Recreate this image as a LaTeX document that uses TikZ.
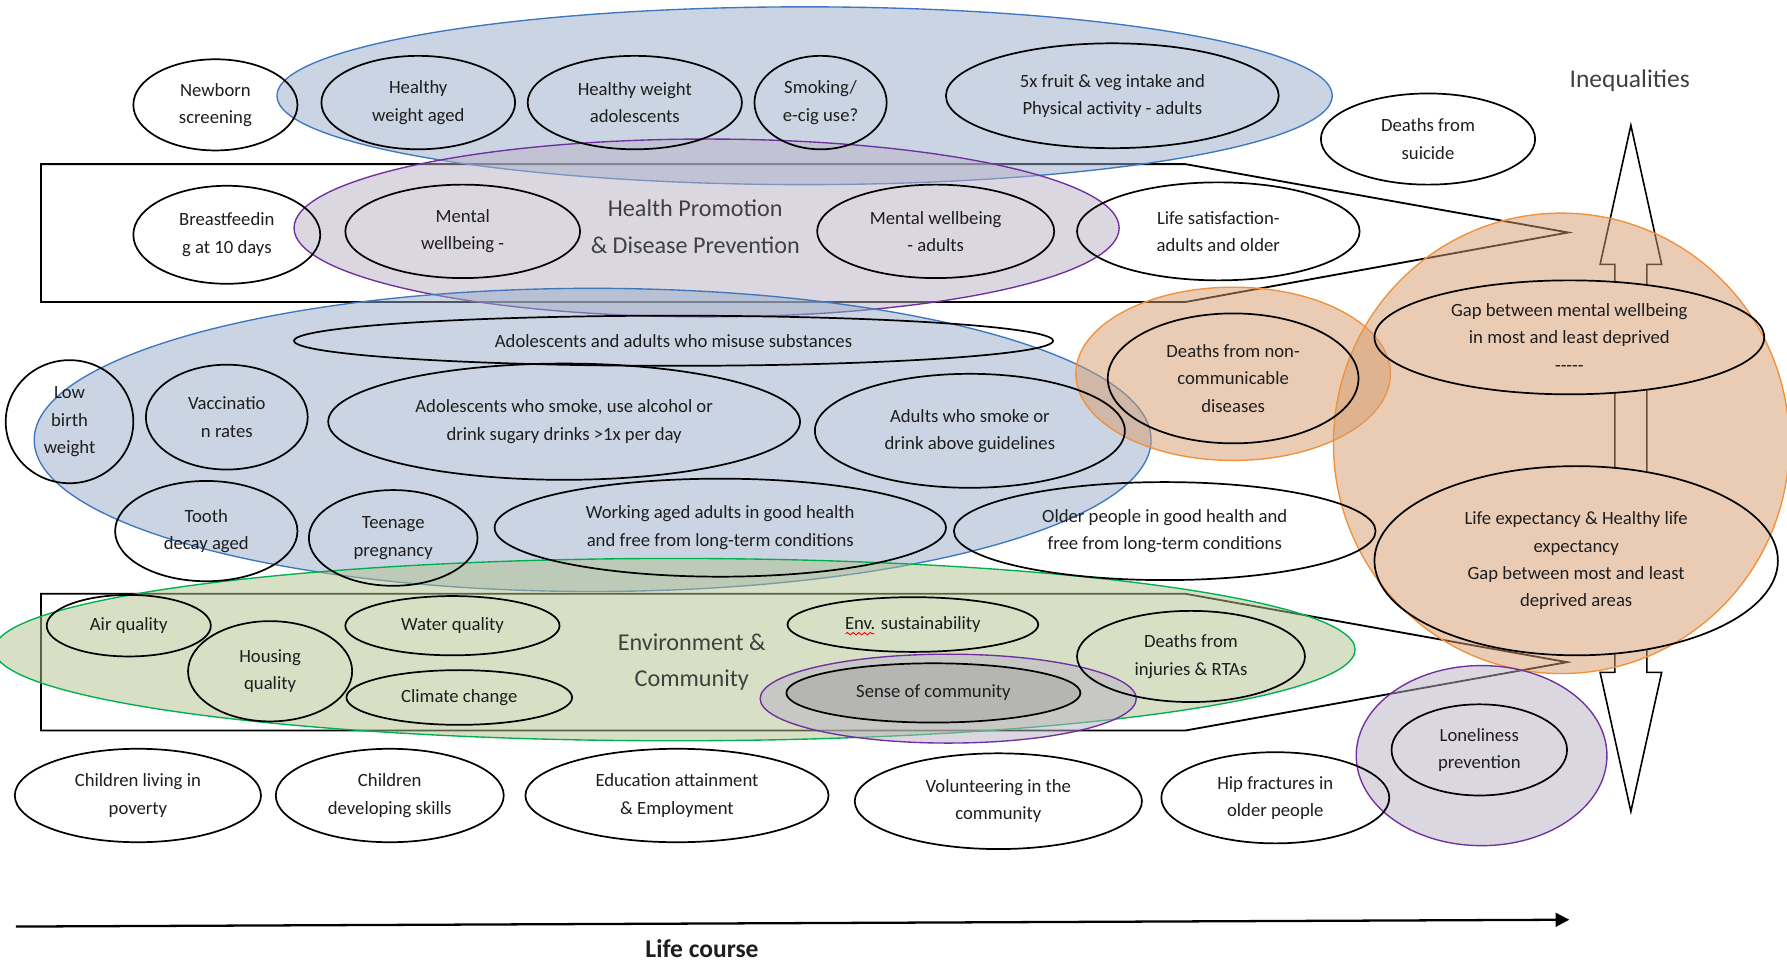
\documentclass[tikz,border=0pt]{standalone}
\usepackage{fontspec}
\setmainfont{Carlito}
\usetikzlibrary{shapes.geometric,arrows.meta,decorations.pathmorphing}
\definecolor{bluel}{HTML}{3F78C0}
\definecolor{bluef}{RGB}{151,171,199}
\definecolor{purl}{HTML}{7030A0}
\definecolor{purf}{RGB}{185,177,197}
\definecolor{orgl}{HTML}{F3903A}
\definecolor{orgf}{RGB}{215,155,109}
\definecolor{grnl}{HTML}{00B050}
\definecolor{grnf}{RGB}{177,193,141}
\definecolor{grayf}{RGB}{128,128,128}
\definecolor{headc}{HTML}{404040}
\definecolor{txtc}{HTML}{1E1E1E}
\tikzset{
  ov/.style={ellipse, draw=black, line width=0.75pt, inner sep=-6pt, align=center, text=txtc, font=\fontsize{8.2}{12}\selectfont},
  tint/.style={ellipse, inner sep=0pt, line width=0.6pt, fill opacity=0.5},
  head/.style={align=center, text=headc, font=\fontsize{10.6}{16}\selectfont},
  box/.style={draw=black, line width=0.8pt, line join=miter},
}
\begin{document}
\begin{tikzpicture}[x=0.5pt,y=-0.5pt]
\fill[white] (0,0) rectangle (1568,847);
\useasboundingbox (0,0) rectangle (1568,847);

% arrow-shaped boxes
\draw[box] (36,144) -- (1040,144) -- (1376,204) -- (1040,265) -- (36,265) -- cycle;
\draw[box] (36,521) -- (1040,521) -- (1375,581) -- (1040,641) -- (36,641) -- cycle;

% inequalities double arrow
\draw[line width=0.7pt, fill=white] (1431,110) -- (1458,232) -- (1445,232) -- (1445,590) -- (1458,590) -- (1431,712) -- (1404,590) -- (1417,590) -- (1417,232) -- (1404,232) -- cycle;

% white backs hiding the arrow shaft
\fill[white] (1377,296) ellipse [x radius=85.5pt, y radius=25pt];
\fill[white] (1383,492) ellipse [x radius=88.5pt, y radius=41.5pt];

% tinted group ellipses
\node[tint, draw=bluel, fill=bluef, minimum width=463pt, minimum height=78pt] (tBlueTop) at (706,84) {};
\node[tint, draw=purl, fill=purf, minimum width=362pt, minimum height=78pt] (tPurTop) at (620,200) {};
\node[tint, draw=bluel, fill=bluef, minimum width=490pt, minimum height=133pt] (tBlueMid) at (520,386) {};
\node[tint, draw=grnl, fill=grnf, minimum width=597pt, minimum height=80pt] (tGreen) at (592,570) {};
\node[tint, draw=orgl, fill=orgf, minimum width=138pt, minimum height=76pt] (tOrgSmall) at (1082,328) {};
\node[tint, draw=orgl, fill=orgf, minimum width=200pt, minimum height=202pt] (tOrgBig) at (1370,389) {};
\node[tint, draw=purl, fill=purf, minimum width=165pt, minimum height=39pt] (tPurSense) at (832,613) {};
\node[tint, draw=purl, fill=purf, minimum width=110pt, minimum height=79pt] (tPurLonely) at (1300,663) {};

% headings
\node[head] (inequal) at (1430,71) {\fontsize{11.2}{14}\selectfont Inequalities};
\node[head] (hp) at (610,199) {Health Promotion\\\& Disease Prevention};
\node[head] (envc) at (607,581) {Environment \&\\Community};

% row 1
\node[ov, minimum width=72pt, minimum height=40pt] (newborn) at (189,92) {Newborn\\screening};
\node[ov, minimum width=85pt, minimum height=41pt] (hwaged) at (367,90) {Healthy\\weight aged};
\node[ov, minimum width=94pt, minimum height=41pt] (hwadol) at (557,90) {Healthy weight\\adolescents};
\node[ov, minimum width=58pt, minimum height=41pt] (smoking) at (720,90) {Smoking/\\e-cig use?};
\node[ov, minimum width=146pt, minimum height=46pt] (fruit) at (976,84) {5x fruit \& veg intake and\\Physical activity - adults};
\node[ov, minimum width=94pt, minimum height=40pt] (suicide) at (1253,122) {Deaths from\\suicide};

% row 2
\node[ov, minimum width=82pt, minimum height=43pt] (breast) at (199,206) {Breastfeedin\\g at 10 days};
\node[ov, minimum width=103pt, minimum height=41pt] (mentalA) at (406,203) {Mental\\wellbeing -};
\node[ov, minimum width=104pt, minimum height=41pt] (mentalB) at (821,203) {Mental wellbeing\\- adults};
\node[ov, minimum width=124pt, minimum height=43pt] (lifesat) at (1069,203) {Life satisfaction-\\adults and older};

% row 3
\node[ov, minimum width=333pt, minimum height=22pt] (substance) at (591,299) {Adolescents and adults who misuse substances};
\node[ov, minimum width=56pt, minimum height=54pt] (lowbirth) at (61,370) {Low\\birth\\weight};
\node[ov, minimum width=71pt, minimum height=46pt] (vacc) at (199,366) {Vaccinatio\\n rates};
\node[ov, minimum width=207pt, minimum height=51pt] (adolsmoke) at (495,370) {Adolescents who smoke, use alcohol or\\drink sugary drinks >1x per day};
\node[ov, minimum width=136pt, minimum height=50pt] (adultsmoke) at (851,378) {Adults who smoke or\\drink above guidelines};
\node[ov, minimum width=110pt, minimum height=57pt] (ncd) at (1082,332) {Deaths from non-\\communicable\\diseases};
\node[ov, minimum width=171pt, minimum height=50pt] (gapmental) at (1377,296) {Gap between mental wellbeing\\in most and least deprived\\-{}-{}-{}-{}-};
\node[ov, minimum width=177pt, minimum height=83pt] (lifeexp) at (1383,492) {Life expectancy \& Healthy life\\expectancy\\Gap between most and least\\deprived areas};

% row 4
\node[ov, minimum width=80pt, minimum height=44pt] (tooth) at (181,466) {Tooth\\decay aged};
\node[ov, minimum width=74pt, minimum height=42pt] (teen) at (345,472) {Teenage\\pregnancy};
\node[ov, minimum width=198pt, minimum height=43pt] (working) at (632,463) {Working aged adults in good health\\and free from long-term conditions};
\node[ov, minimum width=185pt, minimum height=43pt] (older) at (1022,466) {Older people in good health and\\free from long-term conditions};

% environment row
\node[ov, minimum width=72pt, minimum height=27pt] (air) at (113,549) {Air quality};
\node[ov, minimum width=72pt, minimum height=44pt] (housing) at (237,589) {Housing\\quality};
\node[ov, minimum width=94pt, minimum height=26pt] (water) at (397,549) {Water quality};
\node[ov, minimum width=99pt, minimum height=24pt] (climate) at (403,612) {Climate change};
\node[ov, minimum width=110pt, minimum height=24pt] (envsust) at (801,548) {Env. sustainability};
\node[ov, minimum width=129pt, minimum height=26pt, fill=grayf, fill opacity=0.25, text opacity=1] (sense) at (819,608) {Sense of community};
\node[ov, minimum width=100pt, minimum height=40pt] (injuries) at (1045,576) {Deaths from\\injuries \& RTAs};
\draw[red, line width=0.4pt, decorate, decoration={snake, amplitude=0.5pt, segment length=2.5pt}] ([xshift=-29.5pt,yshift=-4pt]envsust.center) -- ++(25,0);

% bottom row
\node[ov, minimum width=108pt, minimum height=41pt] (poverty) at (121,698) {Children living in\\poverty};
\node[ov, minimum width=100pt, minimum height=41pt] (skills) at (342,698) {Children\\developing skills};
\node[ov, minimum width=133pt, minimum height=41pt] (education) at (594,698) {Education attainment\\\& Employment};
\node[ov, minimum width=126pt, minimum height=42pt] (volunteer) at (876,703) {Volunteering in the\\community};
\node[ov, minimum width=100pt, minimum height=40pt] (hip) at (1119,700) {Hip fractures in\\older people};
\node[ov, minimum width=77pt, minimum height=40pt] (lonely) at (1298,658) {Loneliness\\prevention};

% life course axis
\coordinate (lcA) at (14,813);
\coordinate (lcB) at (1377,807);
\draw[line width=1pt, -{Triangle[length=6pt,width=6pt]}] (lcA) -- (lcB);
\node[text=txtc, font=\fontsize{11.2}{14}\selectfont\bfseries] (lifecourse) at (616,832) {Life course};
\end{tikzpicture}
\end{document}
